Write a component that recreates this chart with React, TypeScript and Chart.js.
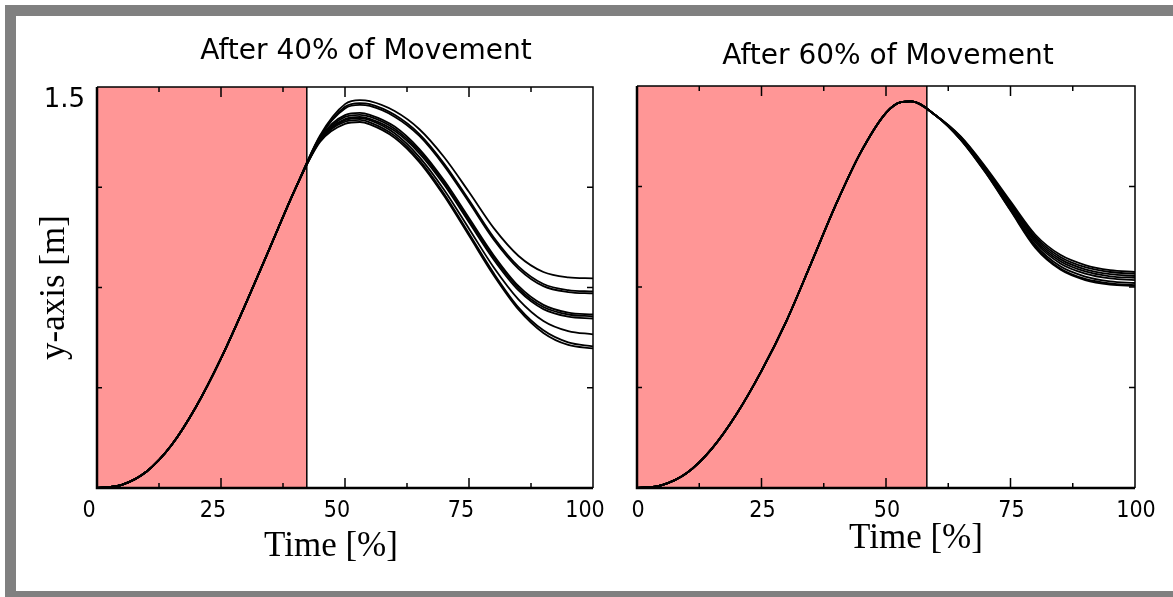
import React, { useEffect, useRef } from 'react';
import { Chart, registerables } from 'chart.js';

Chart.register(...registerables);

// ---------- data ----------
const timePct = [0, 5, 10, 15, 20, 25, 30, 35, 40, 45, 50, 53, 55, 60, 65, 70, 75, 80, 85, 90, 95, 100];

// left panel: shared observed rise (t = 0..40) then diverging predictions (t = 45..100)
const riseLeft = [0, 0.012, 0.062, 0.16, 0.305, 0.485, 0.69, 0.905, 1.12];
const tailA = [1.32, 1.436, 1.451, 1.447, 1.41, 1.342, 1.237, 1.107, 0.972, 0.868, 0.808, 0.788, 0.784];
const tailB = [1.315, 1.426, 1.44, 1.436, 1.396, 1.324, 1.213, 1.077, 0.937, 0.828, 0.763, 0.74, 0.735];
const tailC = [1.315, 1.42, 1.433, 1.429, 1.389, 1.317, 1.205, 1.069, 0.929, 0.82, 0.755, 0.733, 0.728];
const tailD = [1.31, 1.395, 1.403, 1.396, 1.352, 1.268, 1.15, 1.01, 0.87, 0.755, 0.685, 0.656, 0.649];
const tailE = [1.305, 1.388, 1.396, 1.389, 1.344, 1.26, 1.142, 1.002, 0.862, 0.747, 0.677, 0.649, 0.642];
const tailF = [1.305, 1.38, 1.388, 1.381, 1.336, 1.252, 1.134, 0.994, 0.854, 0.739, 0.669, 0.641, 0.634];
const tailG = [1.3, 1.376, 1.384, 1.376, 1.327, 1.238, 1.115, 0.97, 0.825, 0.705, 0.625, 0.587, 0.575];
const tailH = [1.3, 1.37, 1.377, 1.368, 1.318, 1.227, 1.1, 0.952, 0.803, 0.675, 0.59, 0.545, 0.53];
const tailI = [1.295, 1.362, 1.369, 1.36, 1.31, 1.219, 1.092, 0.944, 0.795, 0.667, 0.58, 0.535, 0.522];
const leftTails = [tailA, tailB, tailC, tailD, tailE, tailF, tailG, tailH, tailI];

// right panel: shared observed part (t = 0..60) then predictions (t = 65..100)
const riseRight = [0, 0.011, 0.056, 0.146, 0.276, 0.437, 0.623, 0.84, 1.06, 1.255, 1.4, 1.44, 1.443, 1.39];
const tailP1 = [1.312, 1.198, 1.07, 0.945, 0.87, 0.832, 0.813, 0.806];
const tailP2 = [1.31, 1.194, 1.064, 0.937, 0.862, 0.824, 0.806, 0.799];
const tailP3 = [1.308, 1.191, 1.059, 0.93, 0.854, 0.816, 0.798, 0.791];
const tailP4 = [1.306, 1.188, 1.054, 0.923, 0.846, 0.808, 0.79, 0.784];
const tailP5 = [1.304, 1.185, 1.049, 0.916, 0.838, 0.8, 0.782, 0.776];
const tailP6 = [1.302, 1.181, 1.043, 0.907, 0.827, 0.789, 0.771, 0.765];
const tailP7 = [1.3, 1.178, 1.038, 0.9, 0.819, 0.78, 0.763, 0.757];
const tailP8 = [1.299, 1.176, 1.035, 0.896, 0.815, 0.776, 0.759, 0.754];
const rightTails = [tailP1, tailP2, tailP3, tailP4, tailP5, tailP6, tailP7, tailP8];

const observedEndLeft = 42.3;
const observedEndRight = 58.2;

const xTickLabels = [0, 25, 50, 75, 100];
const xMinorTicks = [12.5, 37.5, 62.5, 87.5];
const yTickValues = [0.375, 0.75, 1.125];
const yLabelShown = 1.5;

const titleLeft = 'After 40% of Movement';
const titleRight = 'After 60% of Movement';
const xAxisTitle = 'Time [%]';
const yAxisTitle = 'y-axis [m]';

// ---------- decoration plugin ----------
const decoPlugin = {
  id: 'deco',
  beforeDatasetsDraw(chart: any, _args: any, o: any) {
    const { ctx, chartArea } = chart;
    const { top, bottom, left } = chartArea;
    const x = chart.scales.x;
    const xe = x.getPixelForValue(o.shadeEnd);
    ctx.save();
    ctx.fillStyle = 'rgb(255,150,150)';
    ctx.fillRect(left, top, xe - left, bottom - top);
    ctx.strokeStyle = '#000';
    ctx.lineWidth = 1.5;
    ctx.beginPath();
    ctx.moveTo(xe, top);
    ctx.lineTo(xe, bottom);
    ctx.stroke();
    ctx.restore();
  },
  afterDatasetsDraw(chart: any) {
    const { ctx, chartArea } = chart;
    const { top, bottom, left, right } = chartArea;
    const x = chart.scales.x;
    const y = chart.scales.y;
    ctx.save();
    ctx.strokeStyle = '#000';
    ctx.lineWidth = 1.5;
    ctx.beginPath();
    ctx.moveTo(left, top);
    ctx.lineTo(right, top);
    ctx.lineTo(right, bottom);
    ctx.stroke();
    ctx.lineWidth = 2.5;
    ctx.beginPath();
    ctx.moveTo(left, top);
    ctx.lineTo(left, bottom);
    ctx.lineTo(right, bottom);
    ctx.stroke();
    ctx.lineWidth = 1.5;
    ctx.beginPath();
    xTickLabels.forEach((v) => {
      if (v === 0 || v === 100) return;
      const px = x.getPixelForValue(v);
      ctx.moveTo(px, bottom);
      ctx.lineTo(px, bottom - 10);
      ctx.moveTo(px, top);
      ctx.lineTo(px, top + 10);
    });
    xMinorTicks.forEach((v) => {
      const px = x.getPixelForValue(v);
      ctx.moveTo(px, bottom);
      ctx.lineTo(px, bottom - 5);
      ctx.moveTo(px, top);
      ctx.lineTo(px, top + 5);
    });
    yTickValues.forEach((v) => {
      const py = y.getPixelForValue(v);
      ctx.moveTo(left, py);
      ctx.lineTo(left + 5, py);
      ctx.moveTo(right, py);
      ctx.lineTo(right - 6, py);
    });
    ctx.stroke();
    ctx.restore();
  },
  afterDraw(chart: any, _args: any, o: any) {
    const { ctx, chartArea } = chart;
    const { top, bottom, left, right } = chartArea;
    const cx = (left + right) / 2;
    ctx.save();
    ctx.fillStyle = '#000';
    ctx.textAlign = 'center';
    ctx.textBaseline = 'middle';
    ctx.font = '28px "DejaVu Sans", sans-serif';
    ctx.fillText(o.title, cx + o.titleDx, o.titleY);
    ctx.font = '35px "Liberation Serif", serif';
    ctx.fillText(o.xTitle, cx + o.xTitleDx, o.xTitleY);
    if (o.yTitle) {
      ctx.translate(o.yTitleX, (top + bottom) / 2);
      ctx.rotate(-Math.PI / 2);
      ctx.fillText(o.yTitle, 0, 0);
    }
    ctx.restore();
  },
};

function makeDatasets(rise: number[], tails: number[][]) {
  return tails.map((tail, k) => {
    const vals = [...rise, ...tail];
    return {
      label: 'run ' + (k + 1),
      data: timePct.map((t, i) => ({ x: t, y: vals[i] })),
      borderColor: '#000',
      borderWidth: 1.8,
      pointRadius: 0,
      fill: false,
      cubicInterpolationMode: 'monotone' as const,
    };
  });
}

function makeConfig(opts: any) {
  return {
    type: 'line' as const,
    data: { datasets: makeDatasets(opts.rise, opts.tails) },
    plugins: [decoPlugin],
    options: {
      animation: false as const,
      responsive: false,
      events: [],
      layout: { padding: opts.padding },
      plugins: {
        legend: { display: false },
        tooltip: { enabled: false },
        title: { display: false },
        deco: opts.deco,
      },
      scales: {
        x: {
          type: 'linear' as const,
          min: 0,
          max: 100,
          grid: { display: false, drawTicks: false },
          border: { display: false },
          afterFit: (s: any) => {
            s.height = opts.xHeight;
            s.paddingLeft = 0;
            s.paddingRight = 0;
          },
          ticks: {
            stepSize: 25,
            padding: 9,
            labelOffset: opts.xLabelOffset,
            color: '#000',
            maxRotation: 0,
            autoSkip: false,
            font: { family: '"DejaVu Sans Condensed", "DejaVu Sans", sans-serif', size: 23 },
            callback: (v: any) => (xTickLabels.includes(v) ? String(v) : ''),
          },
        },
        y: {
          type: 'linear' as const,
          min: 0,
          max: 1.5,
          grid: { display: false, drawTicks: false },
          border: { display: false },
          afterFit: (s: any) => {
            s.width = opts.yWidth;
            s.paddingTop = 0;
            s.paddingBottom = 0;
          },
          ticks: {
            display: opts.showY,
            stepSize: 0.375,
            padding: 12,
            labelOffset: 13,
            color: '#000',
            font: { family: '"DejaVu Sans", sans-serif', size: 26 },
            callback: (v: any) => (v === yLabelShown ? '1.5' : ''),
          },
        },
      },
    },
  };
}

export default function App() {
  const ref1 = useRef<HTMLCanvasElement>(null);
  const ref2 = useRef<HTMLCanvasElement>(null);

  useEffect(() => {
    const c1 = new Chart(
      ref1.current as HTMLCanvasElement,
      makeConfig({
        rise: riseLeft,
        tails: leftTails,
        padding: { top: 71, right: 23, left: 0, bottom: 0 },
        xHeight: 103,
        yWidth: 81,
        showY: true,
        xLabelOffset: -8,
        deco: {
          shadeEnd: observedEndLeft,
          title: titleLeft,
          titleDx: 21,
          titleY: 36,
          xTitle: xAxisTitle,
          xTitleDx: -14,
          xTitleY: 531,
          yTitle: yAxisTitle,
          yTitleX: 39,
        },
      }) as any
    );
    const c2 = new Chart(
      ref2.current as HTMLCanvasElement,
      makeConfig({
        rise: riseRight,
        tails: rightTails,
        padding: { top: 70, right: 38, left: 0, bottom: 0 },
        xHeight: 103,
        yWidth: 21,
        showY: false,
        xLabelOffset: 1,
        deco: {
          shadeEnd: observedEndRight,
          title: titleRight,
          titleDx: 2,
          titleY: 41,
          xTitle: xAxisTitle,
          xTitleDx: 30,
          xTitleY: 523,
          yTitle: null,
          yTitleX: 0,
        },
      }) as any
    );
    return () => {
      c1.destroy();
      c2.destroy();
    };
  }, []);

  return (
    <div
      style={{
        position: 'absolute',
        left: 0,
        top: 0,
        width: 1173,
        height: 597,
        overflow: 'hidden',
        background: '#fff',
      }}
    >
      <div
        style={{
          position: 'absolute',
          left: 5,
          top: 5,
          width: 1300,
          height: 597,
          boxSizing: 'border-box',
          borderTop: '11px solid #808080',
          borderLeft: '11px solid #808080',
          borderBottom: '11px solid #808080',
          background: '#fff',
        }}
      />
      <canvas
        ref={ref1}
        width={600}
        height={575}
        style={{ position: 'absolute', left: 16, top: 16, width: 600, height: 575 }}
      />
      <canvas
        ref={ref2}
        width={557}
        height={575}
        style={{ position: 'absolute', left: 616, top: 16, width: 557, height: 575 }}
      />
    </div>
  );
}
